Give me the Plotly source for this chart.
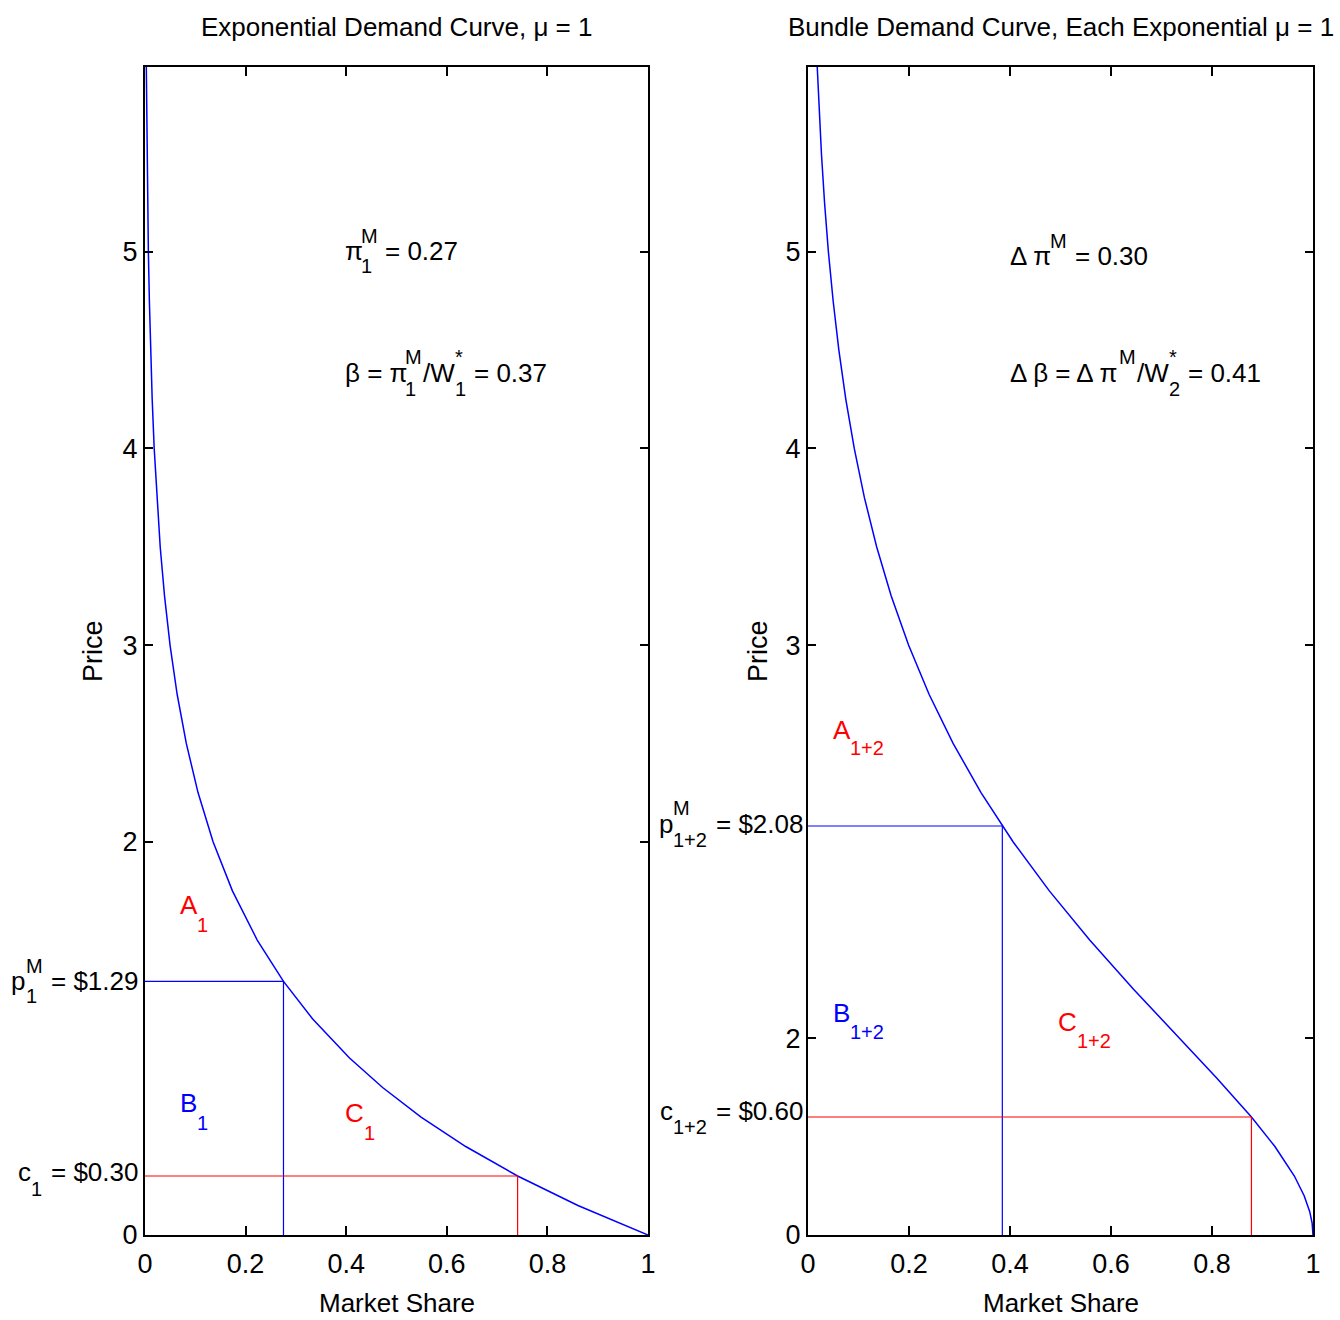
import plotly.graph_objects as go

# ---------------- data ----------------
# Left: exponential demand curve (price vs market share)
left_price = [5.94, 5.7, 5.5, 5.25, 5.0, 4.75, 4.5, 4.25, 4.0, 3.75, 3.5, 3.25, 3.0, 2.75, 2.5,
              2.25, 2.0, 1.75, 1.5, 1.29, 1.1, 0.9, 0.75, 0.6, 0.45, 0.3, 0.15, 0.0]
left_share = [0.0026, 0.0034, 0.0041, 0.0053, 0.0067, 0.0087, 0.0111, 0.0143, 0.0183, 0.0235,
              0.0302, 0.0388, 0.0498, 0.0639, 0.0821, 0.1054, 0.1353, 0.1738, 0.2231, 0.2753,
              0.3329, 0.4066, 0.4724, 0.5488, 0.6376, 0.7408, 0.8607, 1.0]
# Right: bundle demand curve
right_price = [5.94, 5.7, 5.5, 5.25, 5.0, 4.75, 4.5, 4.25, 4.0, 3.75, 3.5, 3.25, 3.0, 2.75, 2.5,
               2.25, 2.08, 2.0, 1.75, 1.5, 1.25, 1.0, 0.8, 0.6, 0.45, 0.3, 0.2, 0.12, 0.06, 0.0]
right_share = [0.0183, 0.0224, 0.0266, 0.0328, 0.0404, 0.0498, 0.0611, 0.0749, 0.0916, 0.1117,
               0.1359, 0.1648, 0.1991, 0.2397, 0.2873, 0.3426, 0.3848, 0.4060, 0.4779, 0.5578,
               0.6446, 0.7358, 0.8088, 0.8781, 0.9246, 0.9631, 0.9825, 0.9934, 0.9983, 1.0]
# Monopoly price / cost markers
left_pm, left_pm_share = 1.29, 0.2753
left_c, left_c_share = 0.30, 0.7408
right_pm, right_pm_share = 2.08, 0.3848
right_c, right_c_share = 0.60, 0.8781

x_tickvals = [0, 0.2, 0.4, 0.6, 0.8, 1]
x_ticktext = ["0", "0.2", "0.4", "0.6", "0.8", "1"]
left_y_tickvals = [0, 2, 3, 4, 5]
left_y_ticktext = ["0", "2", "3", "4", "5"]
right_y_tickvals = [0, 1, 3, 4, 5]
right_y_ticktext = ["0", "2", "3", "4", "5"]
y_max = 5.94

# ---------------- figure ----------------
W, H = 1340, 1320
FONT = "Liberation Sans, Arial, Helvetica, sans-serif"
BLUE = "rgb(0,0,255)"
RED = "rgb(255,0,0)"
BASE = 26
SMALL = 20
TICK = 27

fig = go.Figure()


def add_panel(xa, ya, price, share, pm, pm_s, c, c_s):
    fig.add_trace(go.Scatter(x=share, y=price, mode="lines", line=dict(color=BLUE, width=1.5),
                             xaxis=xa, yaxis=ya, showlegend=False, hoverinfo="skip"))
    fig.add_trace(go.Scatter(x=[0, pm_s, pm_s], y=[pm, pm, 0], mode="lines",
                             line=dict(color=BLUE, width=1.2), xaxis=xa, yaxis=ya,
                             showlegend=False, hoverinfo="skip"))
    fig.add_trace(go.Scatter(x=[0, c_s, c_s], y=[c, c, 0], mode="lines",
                             line=dict(color=RED, width=1.2), xaxis=xa, yaxis=ya,
                             showlegend=False, hoverinfo="skip"))


add_panel("x", "y", left_price, left_share, left_pm, left_pm_share, left_c, left_c_share)
add_panel("x2", "y2", right_price, right_share, right_pm, right_pm_share, right_c, right_c_share)


def px_x(v):
    return v / W


def px_y(v):
    return 1 - v / H


axis_common = dict(showline=True, linecolor="black", linewidth=2, mirror="ticks",
                   ticks="inside", tickcolor="black", tickwidth=1.5,
                   showgrid=False, zeroline=False, automargin=False,
                   tickfont=dict(size=TICK, family=FONT, color="black"))

ydom = [px_y(1235), px_y(67)]
fig.update_layout(
    width=W, height=H, margin=dict(l=0, r=0, t=0, b=0, autoexpand=False),
    paper_bgcolor="white", plot_bgcolor="white",
    xaxis=dict(domain=[px_x(145), px_x(648)], range=[0, 1], tickvals=x_tickvals,
               ticktext=x_ticktext, ticklen=9, ticklabelstandoff=4, anchor="y", **axis_common),
    yaxis=dict(domain=ydom, range=[0, y_max], tickvals=left_y_tickvals,
               ticktext=left_y_ticktext, ticklen=8, ticklabelstandoff=0, anchor="x", **axis_common),
    xaxis2=dict(domain=[px_x(808), px_x(1313)], range=[0, 1], tickvals=x_tickvals,
                ticktext=x_ticktext, ticklen=9, ticklabelstandoff=4, anchor="y2", **axis_common),
    yaxis2=dict(domain=ydom, range=[0, y_max], tickvals=right_y_tickvals,
                ticktext=right_y_ticktext, ticklen=8, ticklabelstandoff=0, anchor="x2", **axis_common),
)

ann = []

# Approximate advance widths (em) of Liberation Sans / Arial
CW = {" ": 0.278, "$": 0.556, "*": 0.389, "+": 0.584, ".": 0.278, "/": 0.278, "=": 0.584,
      "A": 0.667, "B": 0.667, "C": 0.722, "M": 0.833, "W": 0.944, "c": 0.5, "p": 0.556,
      "\u03c0": 0.60, "\u03b2": 0.575, "\u0394": 0.668}


def tw(s):
    return sum(CW.get(ch, 0.556) for ch in s)


def txt(s, x, y, size=BASE, color="black", xanchor="left", angle=0):
    ann.append(dict(text=s, x=px_x(x), y=px_y(y), xref="paper", yref="paper",
                    xanchor=xanchor, yanchor="middle", showarrow=False, textangle=angle,
                    borderpad=0, borderwidth=0,
                    font=dict(size=size, color=color, family=FONT)))


def compose(items, x, y, color="black", anchor="left"):
    """items: ('b', text) base text, or ('s', sup, sub, dy_sup, dy_sub) stacked scripts."""
    widths = []
    for it in items:
        if it[0] == "b":
            widths.append(tw(it[1]) * BASE)
        else:
            widths.append(max(tw(it[1]), tw(it[2])) * SMALL + 1)
    total = sum(widths)
    cx = x if anchor == "left" else x - total
    for it, w in zip(items, widths):
        if it[0] == "b":
            s = it[1]
            lead = len(s) - len(s.lstrip(" "))
            txt(s.strip(" "), cx + lead * CW[" "] * BASE, y, BASE, color)
        else:
            if it[1]:
                txt(it[1], cx, y + it[3], SMALL, color)
            if it[2]:
                txt(it[2], cx, y + it[4], SMALL, color)
        cx += w


# Titles
txt("Exponential Demand Curve, \u03bc = 1", 396.5, 27, xanchor="center")
txt("Bundle Demand Curve, Each Exponential \u03bc = 1", 1060.5, 27, xanchor="center")
# Axis titles
txt("Market Share", 396.5, 1303, xanchor="center")
txt("Market Share", 1060.5, 1303, xanchor="center")
txt("Price", 93, 651, size=27, xanchor="center", angle=-90)
txt("Price", 758, 651, size=27, xanchor="center", angle=-90)

# ---- left panel text ----
compose([("b", "\u03c0"), ("s", "M", "1", -15, 15), ("b", " = 0.27")], 345, 251)
compose([("b", "\u03b2 = \u03c0"), ("s", "M", "1", -16, 16), ("b", "/W"),
         ("s", "*", "1", -16, 16), ("b", " = 0.37")], 345, 373)
compose([("b", "A"), ("s", "", "1", 0, 20)], 180, 905, RED)
compose([("b", "B"), ("s", "", "1", 0, 20)], 180, 1103, BLUE)
compose([("b", "C"), ("s", "", "1", 0, 20)], 345, 1113, RED)
compose([("b", "p"), ("s", "M", "1", -15, 15), ("b", " = $1.29")], 138, 981, anchor="right")
compose([("b", "c"), ("s", "", "1", 0, 17), ("b", " = $0.30")], 138, 1172, anchor="right")

# ---- right panel text ----
compose([("b", "\u0394 \u03c0"), ("s", "M", "", -15, 0), ("b", " = 0.30")], 1010, 256)
compose([("b", "\u0394 \u03b2 = \u0394 \u03c0"), ("s", "M", "", -16, 0), ("b", "/W"),
         ("s", "*", "2", -16, 16), ("b", " = 0.41")], 1010, 373)
compose([("b", "A"), ("s", "", "1+2", 0, 18)], 833, 730, RED)
compose([("b", "B"), ("s", "", "1+2", 0, 19)], 833, 1013, BLUE)
compose([("b", "C"), ("s", "", "1+2", 0, 19)], 1058, 1022, RED)
compose([("b", "p"), ("s", "M", "1+2", -16, 16), ("b", " = $2.08")], 803, 824, anchor="right")
compose([("b", "c"), ("s", "", "1+2", 0, 16), ("b", " = $0.60")], 803, 1111, anchor="right")

fig.update_layout(annotations=ann)

fig.write_html("out.html", config={"displayModeBar": False},
               post_script="document.body.style.margin='0';")
